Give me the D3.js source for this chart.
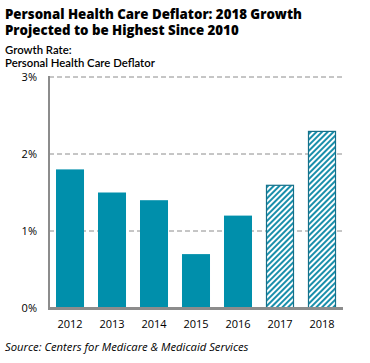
<!DOCTYPE html>
<html><head><meta charset="utf-8">
<script src="https://cdn.jsdelivr.net/npm/d3@7"></script>
<style>body{margin:0;background:#fff;}svg{display:block;}</style>
</head><body>
<svg id="c" width="370" height="363"></svg>
<script>
const years = ["2012","2013","2014","2015","2016","2017","2018"];
const values = [1.8, 1.5, 1.4, 0.7, 1.2, 1.6, 2.3];
const projected = [false, false, false, false, false, true, true];
const yTicks = [0, 1, 2, 3];
const titleLines = ["Personal Health Care Deflator: 2018 Growth", "Projected to be Highest Since 2010"];
const subtitleLines = ["Growth Rate:", "Personal Health Care Deflator"];
const sourceText = "Source: Centers for Medicare & Medicaid Services";

(function(){
const svg = d3.select("#c");
const mL = 49, mR = 343, mT = 77, mB = 308;
const x = d3.scaleBand().domain(years).range([mL, mR]).paddingInner(0.333).paddingOuter(0.1667);
const y = d3.scaleLinear().domain([0, 3]).range([mB, mT]);

const defs = svg.append("defs");
const pat = defs.append("pattern").attr("id","hatch").attr("patternUnits","userSpaceOnUse")
  .attr("width",4).attr("height",4).attr("patternTransform","rotate(45)");
pat.append("rect").attr("width",4).attr("height",4).attr("fill","#fff");
pat.append("rect").attr("width",2).attr("height",4).attr("fill","#1a8fab");

const tt = svg.selectAll(".t").data(titleLines).join("text").attr("class","t")
  .attr("x",5).attr("y",(d,i)=>19+i*16)
  .attr("font-family","'Open Sans', sans-serif").attr("font-weight","800").attr("font-size",14)
  .attr("fill","#000").text(d=>d);
const w0 = tt.nodes()[0].getComputedTextLength();
tt.attr("font-size", 14*297/w0);

const st = svg.selectAll(".s").data(subtitleLines).join("text").attr("class","s")
  .attr("x",5).attr("y",(d,i)=>53.5+i*13)
  .attr("font-family","Lato, sans-serif").attr("font-weight","600").attr("font-size",12)
  .attr("fill","#000").text(d=>d);
const w1 = st.nodes()[1].getComputedTextLength();
st.attr("font-size", 12*150/w1);

svg.append("g").selectAll("line").data(yTicks.filter(d=>d>0)).join("line")
  .attr("x1",mL).attr("x2",mR).attr("y1",d=>y(d)).attr("y2",d=>y(d))
  .attr("stroke","#8c8c8c").attr("stroke-width",1).attr("stroke-dasharray","5,3");

svg.append("g").selectAll("rect").data(years.map((yr,i)=>({yr,v:values[i],p:projected[i]}))).join("rect")
  .attr("x",d=>d.p? x(d.yr)+0.5 : x(d.yr))
  .attr("y",d=>d.p? y(d.v)+0.5 : y(d.v))
  .attr("width",d=>d.p? x.bandwidth()-1 : x.bandwidth())
  .attr("height",d=>d.p? y(0)-y(d.v)-0.5 : y(0)-y(d.v))
  .attr("fill",d=>d.p? "url(#hatch)" : "#008fab")
  .attr("stroke",d=>d.p? "#15708a" : "none").attr("stroke-width",1.2);

const yAxis = d3.axisLeft(y).tickValues(yTicks).tickFormat(d=>d+"%").tickSize(0).tickPadding(12);
const ya = svg.append("g").attr("transform",`translate(${mL},0)`).call(yAxis);
ya.select(".domain").remove();
ya.selectAll("text").attr("font-family","'Open Sans', sans-serif").attr("font-size",11).attr("fill","#000");

const xAxis = d3.axisBottom(x).tickSize(0).tickPadding(12);
const xa = svg.append("g").attr("transform",`translate(0,${mB})`).call(xAxis);
xa.select(".domain").remove();
xa.selectAll("text").attr("font-family","'Open Sans', sans-serif").attr("font-size",11).attr("fill","#000");

svg.append("line").attr("x1",mL).attr("x2",mL).attr("y1",mT-1).attr("y2",mB+1.5)
  .attr("stroke","#8c8c8c").attr("stroke-width",2);
svg.append("line").attr("x1",mL-1).attr("x2",mR).attr("y1",mB+0.5).attr("y2",mB+0.5)
  .attr("stroke","#8c8c8c").attr("stroke-width",3);

svg.append("text").attr("x",5).attr("y",350.5)
  .attr("font-family","'Open Sans', sans-serif").attr("font-style","italic").attr("font-size",11.25)
  .attr("fill","#000").text(sourceText);
})();
</script>
</body></html>
